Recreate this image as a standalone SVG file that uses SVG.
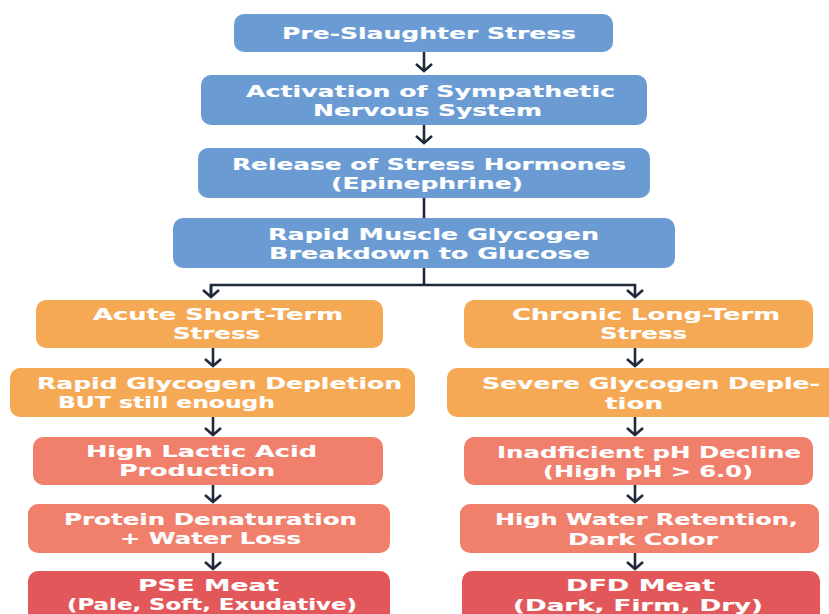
<svg xmlns="http://www.w3.org/2000/svg" width="829" height="614" viewBox="0 0 829 614">
<defs>
<style>
.blue{fill:#6a9bd3}
.orange{fill:#f6a955}
.salmon{fill:#f07f6c}
.red{fill:#e2585a}
text{font-family:"DejaVu Sans","Liberation Sans",sans-serif;font-weight:bold;font-size:16.2px;fill:#ffffff;stroke:#ffffff;stroke-width:0.15}
.big{font-size:16.2px}
.conn{fill:none;stroke:#1f2b3a;stroke-width:2.6}
</style>
<marker id="ah" markerUnits="userSpaceOnUse" markerWidth="20" markerHeight="20" refX="0" refY="0" orient="auto" overflow="visible">
<path d="M-7,-8 L0,0 L-7,8" fill="none" stroke="#1f2b3a" stroke-width="2.6" stroke-linejoin="miter"/>
</marker>
</defs>
<rect width="829" height="614" fill="#ffffff"/>

<g id="connectors">
<line class="conn" x1="424" y1="52" x2="424" y2="71" marker-end="url(#ah)"/>
<line class="conn" x1="424" y1="125" x2="424" y2="143" marker-end="url(#ah)"/>
<line class="conn" x1="424" y1="198" x2="424" y2="218"/>
<polyline class="conn" points="424,268 424,285"/>
<polyline class="conn" points="211,297 211,285 635,285 635,297" marker-end="url(#ah)"/>
<line class="conn" x1="211" y1="286" x2="211" y2="297" marker-end="url(#ah)"/>
<line class="conn" x1="213" y1="348" x2="213" y2="366" marker-end="url(#ah)"/>
<line class="conn" x1="213" y1="417" x2="213" y2="435" marker-end="url(#ah)"/>
<line class="conn" x1="213" y1="485" x2="213" y2="502" marker-end="url(#ah)"/>
<line class="conn" x1="213" y1="553" x2="213" y2="569" marker-end="url(#ah)"/>
<line class="conn" x1="635" y1="348" x2="635" y2="366" marker-end="url(#ah)"/>
<line class="conn" x1="635" y1="417" x2="635" y2="435" marker-end="url(#ah)"/>
<line class="conn" x1="635" y1="485" x2="635" y2="502" marker-end="url(#ah)"/>
<line class="conn" x1="635" y1="553" x2="635" y2="569" marker-end="url(#ah)"/>
</g>

<g id="pre-slaughter">
<rect class="blue" x="234" y="14" width="379" height="38" rx="10"/>
<text x="282" y="39" textLength="294" lengthAdjust="spacingAndGlyphs">Pre-Slaughter Stress</text>
</g>
<g id="activation">
<rect class="blue" x="201" y="75" width="446" height="50" rx="10"/>
<text x="246" y="96.5" textLength="369" lengthAdjust="spacingAndGlyphs">Activation of Sympathetic</text>
<text x="313" y="116" textLength="229" lengthAdjust="spacingAndGlyphs">Nervous System</text>
</g>
<g id="release">
<rect class="blue" x="198" y="148" width="452" height="50" rx="10"/>
<text x="232" y="170" textLength="394" lengthAdjust="spacingAndGlyphs">Release of Stress Hormones</text>
<text x="331" y="189.2" textLength="192" lengthAdjust="spacingAndGlyphs">(Epinephrine)</text>
</g>
<g id="breakdown">
<rect class="blue" x="173" y="218" width="502" height="50" rx="10"/>
<text x="268" y="240" textLength="331" lengthAdjust="spacingAndGlyphs">Rapid Muscle Glycogen</text>
<text x="269" y="259.2" textLength="321" lengthAdjust="spacingAndGlyphs">Breakdown to Glucose</text>
</g>

<g id="acute">
<rect class="orange" x="36" y="300" width="347" height="48" rx="10"/>
<text x="93" y="320" textLength="250" lengthAdjust="spacingAndGlyphs">Acute Short-Term</text>
<text x="173" y="339.2" textLength="87" lengthAdjust="spacingAndGlyphs">Stress</text>
</g>
<g id="rapid-depletion">
<rect class="orange" x="10" y="368" width="405" height="49" rx="10"/>
<text x="37" y="389" textLength="365" lengthAdjust="spacingAndGlyphs">Rapid Glycogen Depletion</text>
<text x="58" y="408.2" textLength="217" lengthAdjust="spacingAndGlyphs">BUT still enough</text>
</g>
<g id="lactic">
<rect class="salmon" x="33" y="437" width="350" height="48" rx="10"/>
<text x="86" y="457" textLength="231" lengthAdjust="spacingAndGlyphs">High Lactic Acid</text>
<text x="119" y="476.2" textLength="156" lengthAdjust="spacingAndGlyphs">Production</text>
</g>
<g id="denaturation">
<rect class="salmon" x="28" y="504" width="362" height="49" rx="10"/>
<text x="64" y="524.6" textLength="293" lengthAdjust="spacingAndGlyphs">Protein Denaturation</text>
<text x="120" y="543.8" textLength="181" lengthAdjust="spacingAndGlyphs">+ Water Loss</text>
</g>
<g id="pse">
<rect class="red" x="28" y="571" width="362" height="60" rx="10"/>
<text class="big" x="138" y="590.8" textLength="141" lengthAdjust="spacingAndGlyphs">PSE Meat</text>
<text class="big" x="67" y="610" textLength="290" lengthAdjust="spacingAndGlyphs">(Pale, Soft, Exudative)</text>
</g>

<g id="chronic">
<rect class="orange" x="464" y="300" width="349" height="48" rx="10"/>
<text x="512" y="320" textLength="268" lengthAdjust="spacingAndGlyphs">Chronic Long-Term</text>
<text x="600" y="339.2" textLength="87" lengthAdjust="spacingAndGlyphs">Stress</text>
</g>
<g id="severe-depletion">
<rect class="orange" x="447" y="368" width="392" height="49" rx="10"/>
<text x="482" y="389.4" textLength="338" lengthAdjust="spacingAndGlyphs">Severe Glycogen Deple-</text>
<text x="605" y="408.6" textLength="58" lengthAdjust="spacingAndGlyphs">tion</text>
</g>
<g id="ph-decline">
<rect class="salmon" x="464" y="437" width="349" height="48" rx="10"/>
<text x="497" y="458" textLength="304" lengthAdjust="spacingAndGlyphs">Inadficient pH Decline</text>
<text x="543" y="477.2" textLength="210" lengthAdjust="spacingAndGlyphs">(High pH &gt; 6.0)</text>
</g>
<g id="water-retention">
<rect class="salmon" x="460" y="504" width="359" height="49" rx="10"/>
<text x="495" y="525.4" textLength="303" lengthAdjust="spacingAndGlyphs">High Water Retention,</text>
<text x="568" y="544.6" textLength="150" lengthAdjust="spacingAndGlyphs">Dark Color</text>
</g>
<g id="dfd">
<rect class="red" x="462" y="571" width="358" height="60" rx="10"/>
<text class="big" x="566" y="591.3" textLength="149" lengthAdjust="spacingAndGlyphs">DFD Meat</text>
<text class="big" x="513" y="610.5" textLength="250" lengthAdjust="spacingAndGlyphs">(Dark, Firm, Dry)</text>
</g>
</svg>
